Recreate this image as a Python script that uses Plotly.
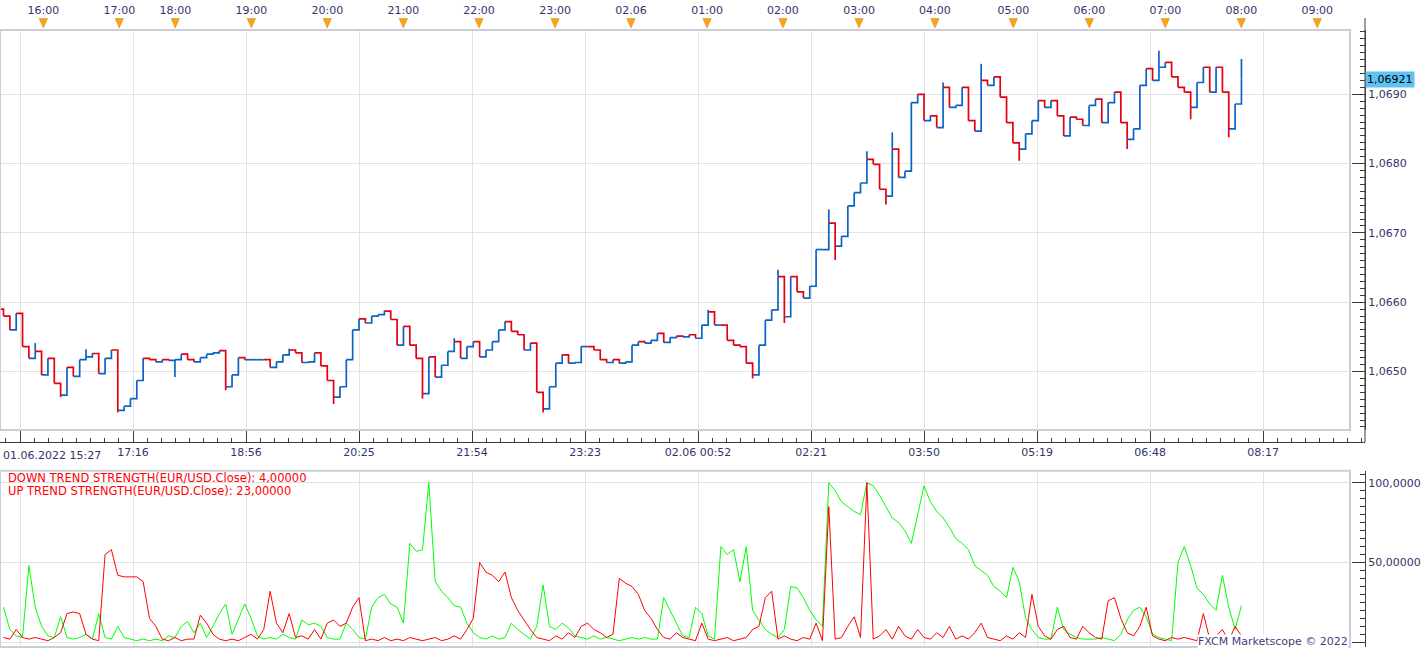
import plotly.graph_objects as go

W, H = 1423, 649

# ---------------- data ----------------
first_open = 1.06590
close = [
    1.06580, 1.06560, 1.06584, 1.06536, 1.06519, 1.06529, 1.06495, 1.06519, 1.06483, 1.06466,
    1.06506, 1.06493, 1.06517, 1.06521, 1.06526, 1.06497, 1.06519, 1.06531, 1.06444, 1.06450,
    1.06461, 1.06487, 1.06519, 1.06517, 1.06514, 1.06517, 1.06516, 1.06517, 1.06525, 1.06517,
    1.06514, 1.06520, 1.06525, 1.06527, 1.06530, 1.06478, 1.06495, 1.06520, 1.06517, 1.06517,
    1.06517, 1.06517, 1.06506, 1.06514, 1.06524, 1.06531, 1.06527, 1.06513, 1.06514, 1.06527,
    1.06508, 1.06487, 1.06463, 1.06478, 1.06517, 1.06560, 1.06576, 1.06570, 1.06580, 1.06582,
    1.06587, 1.06575, 1.06538, 1.06565, 1.06538, 1.06519, 1.06468, 1.06521, 1.06492, 1.06509,
    1.06529, 1.06543, 1.06519, 1.06536, 1.06543, 1.06521, 1.06531, 1.06543, 1.06560, 1.06572,
    1.06558, 1.06553, 1.06531, 1.06541, 1.06470, 1.06446, 1.06478, 1.06512, 1.06524, 1.06512,
    1.06513, 1.06536, 1.06536, 1.06531, 1.06517, 1.06513, 1.06517, 1.06512, 1.06514, 1.06538,
    1.06543, 1.06541, 1.06545, 1.06555, 1.06542, 1.06549, 1.06551, 1.06550, 1.06553, 1.06548,
    1.06567, 1.06586, 1.06567, 1.06567, 1.06545, 1.06538, 1.06536, 1.06512, 1.06495, 1.06538,
    1.06574, 1.06589, 1.06637, 1.06579, 1.06637, 1.06615, 1.06606, 1.06623, 1.06676, 1.06676,
    1.06714, 1.06681, 1.06695, 1.06739, 1.06758, 1.06772, 1.06806, 1.06799, 1.06763, 1.06753,
    1.06821, 1.06780, 1.06789, 1.06888, 1.06900, 1.06862, 1.06869, 1.06852, 1.06910, 1.06881,
    1.06884, 1.06910, 1.06862, 1.06847, 1.06920, 1.06913, 1.06925, 1.06896, 1.06859, 1.06830,
    1.06821, 1.06843, 1.06862, 1.06891, 1.06881, 1.06891, 1.06869, 1.06840, 1.06867, 1.06864,
    1.06855, 1.06884, 1.06893, 1.06859, 1.06888, 1.06903, 1.06859, 1.06835, 1.06850, 1.06913,
    1.06937, 1.06920, 1.06939, 1.06946, 1.06925, 1.06910, 1.06903, 1.06881, 1.06917, 1.06939,
    1.06903, 1.06939, 1.06903, 1.06850, 1.06886, 1.06921,
]
# notable wick extremes: candle number -> extreme price
wick_index = [5, 9, 13, 18, 27, 35, 45, 52, 60, 66, 71, 85,
              111, 118, 122, 123, 130, 131, 136, 139, 140, 148, 154, 160,
              177, 182, 187, 193, 195]
wick_price = [1.06541, 1.06463, 1.06532, 1.06441, 1.06492, 1.06473, 1.06533, 1.06453,
              1.06588, 1.06461, 1.06548, 1.06441,
              1.06589, 1.06490, 1.06647, 1.06570, 1.06734, 1.06661, 1.06818, 1.06741,
              1.06845, 1.06917, 1.06944, 1.06804, 1.06821, 1.06963, 1.06864, 1.06838, 1.06951]
up_strength = [
    22, 8, 4, 3, 48, 22, 10, 4, 3, 16,
    3, 2, 3, 5, 2, 18, 3, 2, 10, 3,
    2, 1, 2, 1, 2, 1, 4, 3, 10, 13,
    6, 12, 3, 10, 18, 24, 5, 14, 24, 15,
    4, 2, 3, 2, 5, 3, 2, 14, 11, 12,
    10, 3, 2, 2, 12, 8, 3, 2, 22, 28,
    30, 24, 22, 12, 62, 57, 58, 100, 38, 32,
    28, 23, 22, 12, 6, 3, 2, 4, 2, 3,
    12, 8, 5, 2, 10, 36, 10, 8, 12, 9,
    4, 3, 2, 4, 2, 3, 2, 1, 2, 3,
    2, 3, 2, 2, 28, 20, 12, 4, 3, 22,
    18, 4, 2, 60, 55, 58, 38, 60, 20, 14,
    8, 5, 3, 8, 35, 34, 28, 20, 14, 10,
    100, 95, 88, 85, 82, 80, 100, 98, 92, 85,
    78, 75, 70, 62, 80, 98, 88, 82, 78, 72,
    65, 62, 58, 48, 45, 42, 35, 32, 28, 47,
    38, 15, 8, 3, 2, 2, 22, 8, 5, 3,
    2, 2, 2, 3, 2, 1, 5, 14, 20, 22,
    16, 5, 3, 2, 1, 50, 60, 48, 34, 30,
    24, 20, 42, 22, 8, 23,
]
down_strength = [
    3, 2, 8, 3, 2, 3, 2, 1, 3, 6,
    18, 19, 18, 5, 2, 1, 55, 58, 42, 41,
    41, 41, 38, 15, 10, 2, 1, 3, 1, 2,
    2, 17, 12, 5, 2, 1, 2, 1, 3, 5,
    2, 8, 32, 12, 6, 18, 3, 4, 2, 8,
    2, 12, 14, 10, 12, 22, 28, 1, 2, 1,
    3, 1, 2, 1, 3, 2, 1, 2, 3, 1,
    2, 4, 2, 8, 15, 50, 44, 42, 38, 44,
    28, 20, 14, 8, 3, 2, 1, 4, 2, 6,
    3, 10, 12, 8, 6, 3, 5, 40, 37, 35,
    30, 20, 15, 8, 3, 2, 6, 3, 2, 1,
    12, 2, 1, 2, 3, 1, 2, 3, 8, 10,
    28, 32, 2, 4, 2, 1, 3, 2, 12, 1,
    85, 2, 3, 10, 16, 3, 100, 2, 4, 8,
    2, 10, 4, 2, 8, 3, 2, 6, 3, 10,
    2, 4, 2, 6, 12, 3, 2, 1, 4, 2,
    6, 3, 30, 10, 4, 2, 8, 10, 3, 2,
    10, 6, 3, 2, 26, 28, 15, 6, 4, 10,
    22, 4, 2, 1, 3, 2, 3, 2, 1, 18,
    2, 4, 8, 1, 10, 4,
]
first_bar = -13      # bar index of the first candle (each candle = 5 one-minute bars)
bar_step = 5

hour_bars = [18.4, 78.2, 122.3, 182.2, 242.0, 301.9, 361.5, 421.4, 481.2,
             541.1, 600.9, 660.8, 720.6, 782.3, 842.2, 902.0, 961.9, 1021.7]
hour_labels = ["16:00", "17:00", "18:00", "19:00", "20:00", "21:00", "22:00", "23:00", "02.06",
               "01:00", "02:00", "03:00", "04:00", "05:00", "06:00", "07:00", "08:00", "09:00"]
time_bars = [0, 89, 178, 267, 356, 445, 534, 623, 712, 801, 890, 979]
time_labels = ["01.06.2022 15:27", "17:16", "18:56", "20:25", "21:54", "23:23",
               "02.06 00:52", "02:21", "03:50", "05:19", "06:48", "08:17"]
price_ticks = [1.0650, 1.0660, 1.0670, 1.0680, 1.0690]
price_labels = ["1,0650", "1,0660", "1,0670", "1,0680", "1,0690"]
strength_ticks = [0, 50, 100]
strength_labels = ["0,00000", "50,00000", "100,0000"]
last_price = 1.06921
down_last = "4,00000"
up_last = "23,00000"

# ---------------- derived series ----------------
n = len(close)
bars = [first_bar + bar_step * i for i in range(n)]
opens = [first_open] + close[:-1]
wicks = dict(zip(wick_index, wick_price))

# each candle: step from the previous bar position at its open, then the body open -> close,
# plus an optional wick to its extreme
up_x, up_y, dn_x, dn_y = [], [], [], []
for i in range(n):
    x_prev = bars[i] - bar_step
    seg_x = [x_prev, bars[i], bars[i], None]
    seg_y = [opens[i], opens[i], close[i], None]
    if i in wicks:
        ext = wicks[i]
        base = max(opens[i], close[i]) if ext > close[i] else min(opens[i], close[i])
        seg_x += [bars[i], bars[i], None]
        seg_y += [base, ext, None]
    if close[i] >= opens[i]:
        up_x += seg_x
        up_y += seg_y
    else:
        dn_x += seg_x
        dn_y += seg_y

# ---------------- geometry helpers ----------------
PX_PER_BAR = 1.2697
BAR0_PX = 20.0
def bar_at(px):
    return (px - BAR0_PX) / PX_PER_BAR
def fx(px):
    return px / W
def fy(py):
    return 1 - py / H

BLUE = "#0a64c8"
RED = "#e3000f"
AXC = "#3c3c3c"
GRID = "#e2e2e2"
BOX = "#c9ced8"
TXT = "#33336b"
FONT = "DejaVu Sans"

main_range = [bar_at(0), bar_at(1350)]
wide_range = [bar_at(0), bar_at(1365)]
price_range = [1.0690 - (430 - 94.3) / 69300, 1.0690 + (94.3 - 30) / 69300]
str_range = [(642.3 - 647) / 1.596, (642.3 - 470.7) / 1.596]

fig = go.Figure()
fig.add_trace(go.Scatter(x=up_x, y=up_y, mode="lines", line=dict(color=BLUE, width=1.7),
                         connectgaps=False, xaxis="x", yaxis="y", showlegend=False, hoverinfo="skip"))
fig.add_trace(go.Scatter(x=dn_x, y=dn_y, mode="lines", line=dict(color=RED, width=1.7),
                         connectgaps=False, xaxis="x", yaxis="y", showlegend=False, hoverinfo="skip"))
fig.add_trace(go.Scatter(x=bars, y=up_strength, mode="lines",
                         line=dict(color="#00ff00", width=1),
                         xaxis="x4", yaxis="y4", showlegend=False, hoverinfo="skip"))
fig.add_trace(go.Scatter(x=bars, y=down_strength, mode="lines",
                         line=dict(color="#ff0000", width=1),
                         xaxis="x4", yaxis="y4", showlegend=False, hoverinfo="skip"))
# empty helper traces so that the free time axes are drawn
fig.add_trace(go.Scatter(x=[None], y=[None], xaxis="x2", yaxis="y5", showlegend=False, hoverinfo="skip"))
fig.add_trace(go.Scatter(x=[None], y=[None], xaxis="x3", yaxis="y5", showlegend=False, hoverinfo="skip"))

tickfont = dict(family=FONT, size=11, color=TXT)

fig.update_layout(
    width=W, height=H, autosize=False,
    margin=dict(l=0, r=0, t=0, b=0, pad=0),
    paper_bgcolor="white", plot_bgcolor="white",
    template="none", showlegend=False, hovermode=False,
    font=dict(family=FONT, size=11, color=TXT),
    xaxis=dict(domain=[0, fx(1350)], range=main_range, anchor="y",
               tickmode="array", tickvals=time_bars, showticklabels=False, ticks="",
               showgrid=True, gridcolor=GRID, gridwidth=1, zeroline=False, showline=False),
    yaxis=dict(domain=[fy(430), fy(30)], range=price_range, anchor="free", position=fx(1365),
               side="right", tickmode="array", tickvals=price_ticks, ticktext=price_labels,
               ticks="inside", ticklen=13, tickcolor=AXC, tickwidth=1,
               showline=True, linecolor=AXC, linewidth=1,
               showgrid=True, gridcolor=GRID, gridwidth=1, zeroline=False, tickfont=tickfont,
               minor=dict(tickmode="linear", tick0=1.0650, dtick=0.0001, ticks="inside",
                          ticklen=5, tickcolor=AXC, showgrid=False)),
    xaxis2=dict(domain=[0, fx(1365)], range=wide_range, anchor="free", position=fy(18),
                side="top", tickmode="array", tickvals=hour_bars, ticktext=hour_labels,
                ticks="inside", ticklen=12, tickcolor=AXC, showline=True, linecolor=AXC,
                showgrid=False, zeroline=False, tickfont=tickfont,
                minor=dict(tickmode="linear", tick0=2, dtick=8, ticks="inside", ticklen=4,
                           tickcolor=AXC, showgrid=False)),
    xaxis3=dict(domain=[0, fx(1365)], range=wide_range, anchor="free", position=fy(442),
                side="bottom", tickmode="array", tickvals=time_bars,
                ticktext=[""] + time_labels[1:],
                ticks="inside", ticklen=12, tickcolor=AXC, showline=True, linecolor=AXC,
                showgrid=False, zeroline=False, tickfont=tickfont,
                minor=dict(tickmode="linear", tick0=0, dtick=89 / 8, ticks="inside", ticklen=4,
                           tickcolor=AXC, showgrid=False)),
    yaxis5=dict(domain=[fy(30), fy(18)], range=[0, 1], anchor="free", position=0,
                visible=False),
    xaxis4=dict(domain=[0, fx(1350)], range=main_range, anchor="y4",
                tickmode="array", tickvals=time_bars, showticklabels=False, ticks="",
                showgrid=True, gridcolor=GRID, zeroline=False, showline=False),
    yaxis4=dict(domain=[fy(647), fy(470.7)], range=str_range, anchor="free", position=fx(1365),
                side="right", tickmode="array", tickvals=strength_ticks, ticktext=strength_labels,
                ticks="inside", ticklen=13, tickcolor=AXC, showline=True, linecolor=AXC,
                showgrid=True, gridcolor=GRID, zeroline=False, tickfont=tickfont,
                minor=dict(tickmode="linear", tick0=0, dtick=5, ticks="inside", ticklen=5,
                           tickcolor=AXC, showgrid=False)),
)

shapes = [
    dict(type="rect", xref="paper", yref="paper", x0=0, x1=fx(1350), y0=fy(430), y1=fy(30),
         line=dict(color=BOX, width=2), layer="above"),
    dict(type="rect", xref="paper", yref="paper", x0=0, x1=fx(1350), y0=fy(647), y1=fy(470.7),
         line=dict(color=BOX, width=2), layer="above"),
    dict(type="line", xref="paper", yref="paper", x0=fx(1365), x1=fx(1365), y0=fy(442), y1=fy(18),
         line=dict(color=AXC, width=1)),
]
half = 4.2 / PX_PER_BAR
for b in hour_bars:
    shapes.append(dict(type="path", xref="x2", yref="paper",
                       path=f"M {b - half},{fy(18.5)} L {b + half},{fy(18.5)} L {b},{fy(28)} Z",
                       fillcolor="#f8a31c", line=dict(color="#e8910f", width=0.6), layer="above"))
fig.update_layout(shapes=shapes)

legend_font = dict(family=FONT, size=11.5, color="#ff0000")
ann = [
    dict(xref="paper", yref="y", x=fx(1365), y=last_price, text="1,06921", showarrow=False,
         xanchor="left", yanchor="middle", bgcolor="#5cc3f3", borderpad=1,
         font=dict(family=FONT, size=11, color="#000000")),
    dict(xref="paper", yref="paper", x=fx(1), y=fy(455), text=time_labels[0], showarrow=False,
         xanchor="left", yanchor="middle", font=tickfont),
    dict(xref="paper", yref="paper", x=fx(6), y=fy(478.3),
         text=f"DOWN TREND STRENGTH(EUR/USD.Close): {down_last}", showarrow=False,
         xanchor="left", yanchor="middle", font=legend_font),
    dict(xref="paper", yref="paper", x=fx(6), y=fy(490.7),
         text=f"UP TREND STRENGTH(EUR/USD.Close): {up_last}", showarrow=False,
         xanchor="left", yanchor="middle", font=legend_font),
    dict(xref="paper", yref="paper", x=fx(1349), y=fy(641), text="FXCM Marketscope © 2022",
         showarrow=False, xanchor="right", yanchor="middle", bgcolor="white", borderpad=0,
         font=dict(family=FONT, size=11, color="#3f3f80")),
]
fig.update_layout(annotations=ann)

fig.write_html("out.html")
